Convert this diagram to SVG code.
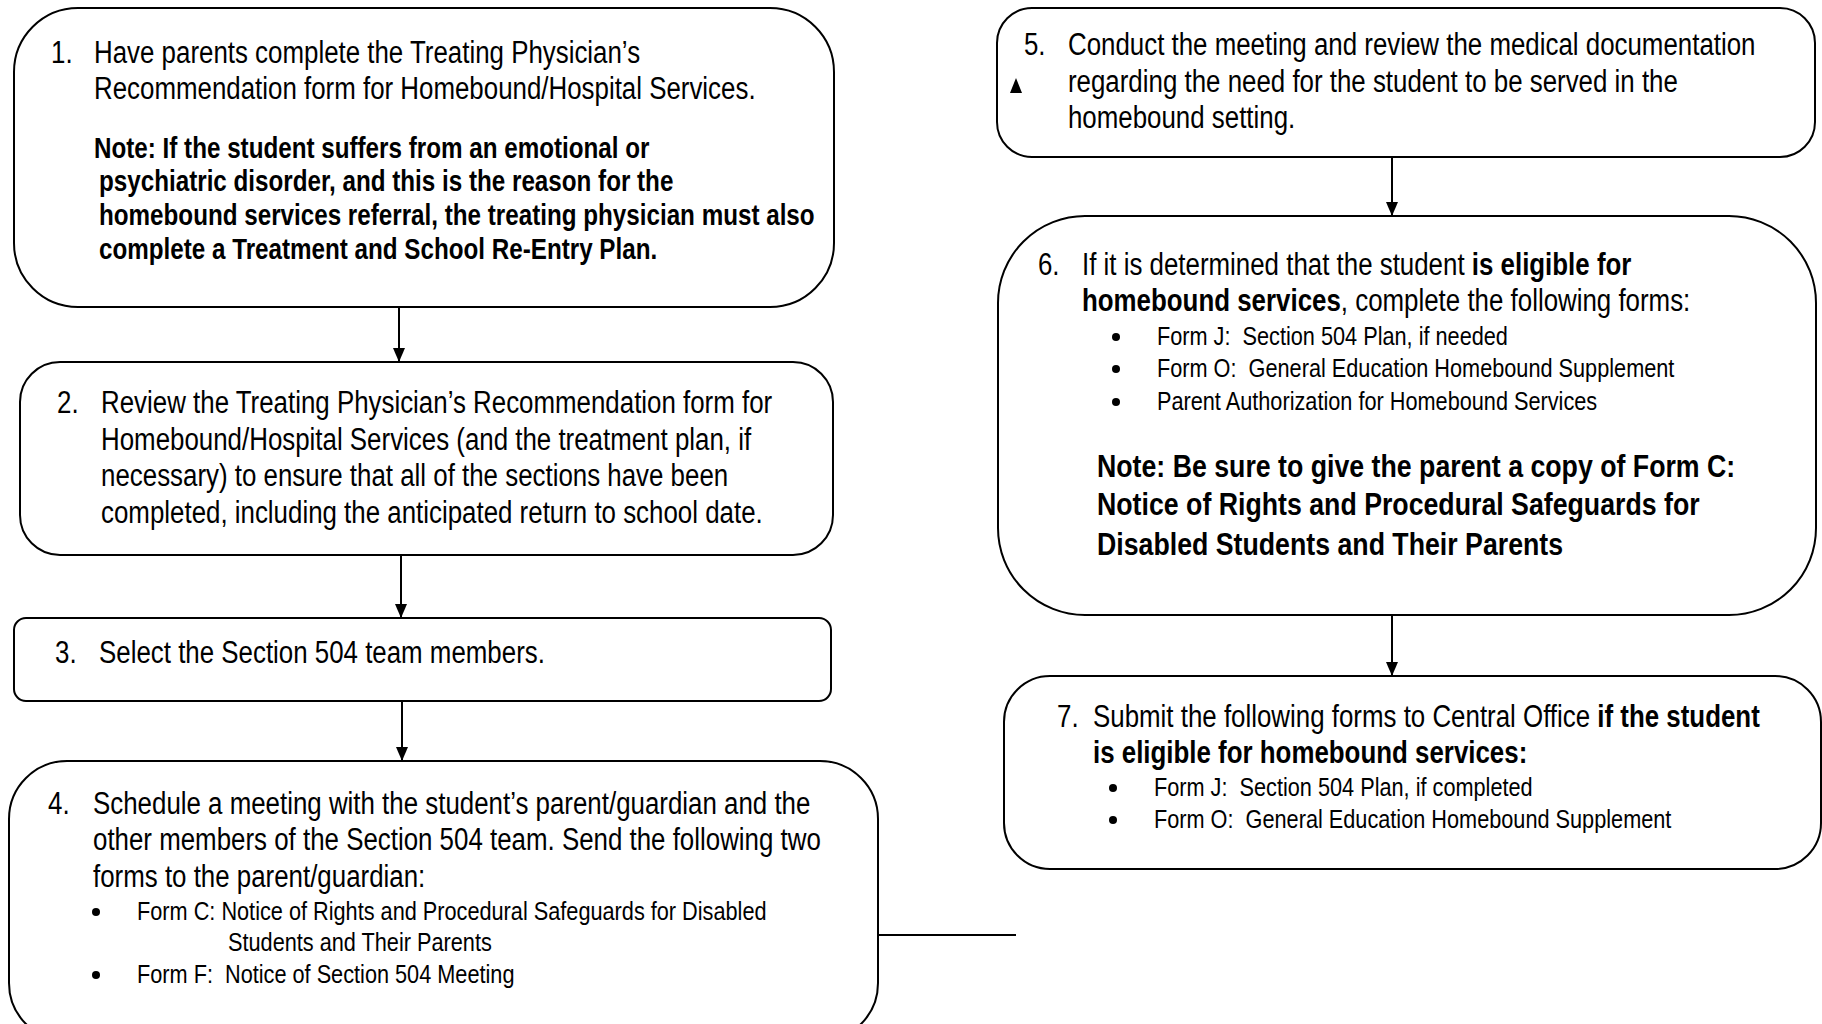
<svg xmlns="http://www.w3.org/2000/svg" width="1822" height="1024" viewBox="0 0 1822 1024">
<style>
.box{fill:#fff;stroke:#000;stroke-width:2}
text{font-family:"Liberation Sans",Arial,sans-serif;fill:#000}
.t{font-size:31px}
.b{font-weight:bold}
.nb{font-size:29px;font-weight:bold}
.nb2{font-size:32px;font-weight:bold}
.s{font-size:26px}
.c{stroke:#000;stroke-width:2;fill:none}
</style>
<defs>
<marker id="ah" markerWidth="14" markerHeight="12" refX="14" refY="6" orient="auto" markerUnits="userSpaceOnUse" viewBox="0 0 14 12">
<path d="M0,0 L14,6 L0,12 Z" fill="#000"/>
</marker>
<circle id="dot" r="4" fill="#000"/>
</defs>
<rect width="1822" height="1024" fill="#fff"/>
<g id="node1">
<rect class="box" x="14" y="8" width="820" height="299" rx="64" ry="64"/>
<g transform="scale(0.835,1)">
<text class="t" x="61.1" y="63">1.</text>
<text class="t" x="112.6" y="63">Have parents complete the Treating Physician’s</text>
<text class="t" x="112.6" y="99">Recommendation form for Homebound/Hospital Services.</text>
<text class="nb" x="112.6" y="158">Note: If the student suffers from an emotional or</text>
<text class="nb" x="118.6" y="191">psychiatric disorder, and this is the reason for the</text>
<text class="nb" x="118.6" y="225">homebound services referral, the treating physician must also</text>
<text class="nb" x="118.6" y="259">complete a Treatment and School Re-Entry Plan.</text>
</g>
</g>
<g id="node2">
<rect class="box" x="20" y="362" width="813" height="193" rx="40" ry="40"/>
<g transform="scale(0.835,1)">
<text class="t" x="68.3" y="413">2.</text>
<text class="t" x="121" y="413">Review the Treating Physician’s Recommendation form for</text>
<text class="t" x="121" y="450">Homebound/Hospital Services (and the treatment plan, if</text>
<text class="t" x="121" y="486">necessary) to ensure that all of the sections have been</text>
<text class="t" x="121" y="523">completed, including the anticipated return to school date.</text>
</g>
</g>
<g id="node3">
<rect class="box" x="14" y="618" width="817" height="83" rx="12" ry="12"/>
<g transform="scale(0.835,1)">
<text class="t" x="65.9" y="663">3.</text>
<text class="t" x="118.6" y="663">Select the Section 504 team members.</text>
</g>
</g>
<g id="node4">
<rect class="box" x="9" y="761" width="869" height="280" rx="58" ry="58"/>
<use href="#dot" x="96" y="912"/>
<use href="#dot" x="96" y="975"/>
<g transform="scale(0.835,1)">
<text class="t" x="57.5" y="814">4.</text>
<text class="t" x="111.4" y="814">Schedule a meeting with the student’s parent/guardian and the</text>
<text class="t" x="111.4" y="850">other members of the Section 504 team. Send the following two</text>
<text class="t" x="111.4" y="887">forms to the parent/guardian:</text>
<text class="s" x="164.1" y="920">Form C: Notice of Rights and Procedural Safeguards for Disabled</text>
<text class="s" x="273.1" y="951">Students and Their Parents</text>
<text class="s" x="164.1" y="983">Form F:&#160; Notice of Section 504 Meeting</text>
</g>
</g>
<g id="node5">
<rect class="box" x="997" y="8" width="818" height="149" rx="35" ry="35"/>
<g transform="scale(0.835,1)">
<text class="t" x="1226.3" y="55">5.</text>
<text class="t" x="1279" y="55">Conduct the meeting and review the medical documentation</text>
<text class="t" x="1279" y="92">regarding the need for the student to be served in the</text>
<text class="t" x="1279" y="128">homebound setting.</text>
</g>
</g>
<g id="node6">
<rect class="box" x="998" y="216" width="818" height="399" rx="87" ry="87"/>
<use href="#dot" x="1116" y="337"/>
<use href="#dot" x="1116" y="369"/>
<use href="#dot" x="1116" y="402"/>
<g transform="scale(0.835,1)">
<text class="t" x="1243.1" y="275">6.</text>
<text class="t" x="1295.8" y="275">If it is determined that the student <tspan class="b">is eligible for</tspan></text>
<text class="t" x="1295.8" y="311"><tspan class="b">homebound services</tspan>, complete the following forms:</text>
<text class="s" x="1385.6" y="345">Form J:&#160; Section 504 Plan, if needed</text>
<text class="s" x="1385.6" y="377">Form O:&#160; General Education Homebound Supplement</text>
<text class="s" x="1385.6" y="410">Parent Authorization for Homebound Services</text>
<text class="nb2" x="1313.8" y="477">Note: Be sure to give the parent a copy of Form C:</text>
<text class="nb2" x="1313.8" y="515">Notice of Rights and Procedural Safeguards for</text>
<text class="nb2" x="1313.8" y="555">Disabled Students and Their Parents</text>
</g>
</g>
<g id="node7">
<rect class="box" x="1004" y="676" width="817" height="193" rx="46" ry="46"/>
<use href="#dot" x="1113" y="788"/>
<use href="#dot" x="1113" y="820"/>
<g transform="scale(0.835,1)">
<text class="t" x="1265.9" y="727">7.</text>
<text class="t" x="1309" y="727">Submit the following forms to Central Office <tspan class="b">if the student</tspan></text>
<text class="t b" x="1309" y="763">is eligible for homebound services:</text>
<text class="s" x="1382" y="796">Form J:&#160; Section 504 Plan, if completed</text>
<text class="s" x="1382" y="828">Form O:&#160; General Education Homebound Supplement</text>
</g>
</g>
<g id="connectors">
<line class="c" x1="399" y1="307" x2="399" y2="362" marker-end="url(#ah)"/>
<line class="c" x1="401" y1="555" x2="401" y2="618" marker-end="url(#ah)"/>
<line class="c" x1="402" y1="701" x2="402" y2="761" marker-end="url(#ah)"/>
<line class="c" x1="878" y1="935" x2="1016" y2="935"/>
<path d="M1010,93 L1022,93 L1016,78 Z" fill="#000"/>
<line class="c" x1="1392" y1="157" x2="1392" y2="216" marker-end="url(#ah)"/>
<line class="c" x1="1392" y1="615" x2="1392" y2="676" marker-end="url(#ah)"/>
</g>
</svg>
